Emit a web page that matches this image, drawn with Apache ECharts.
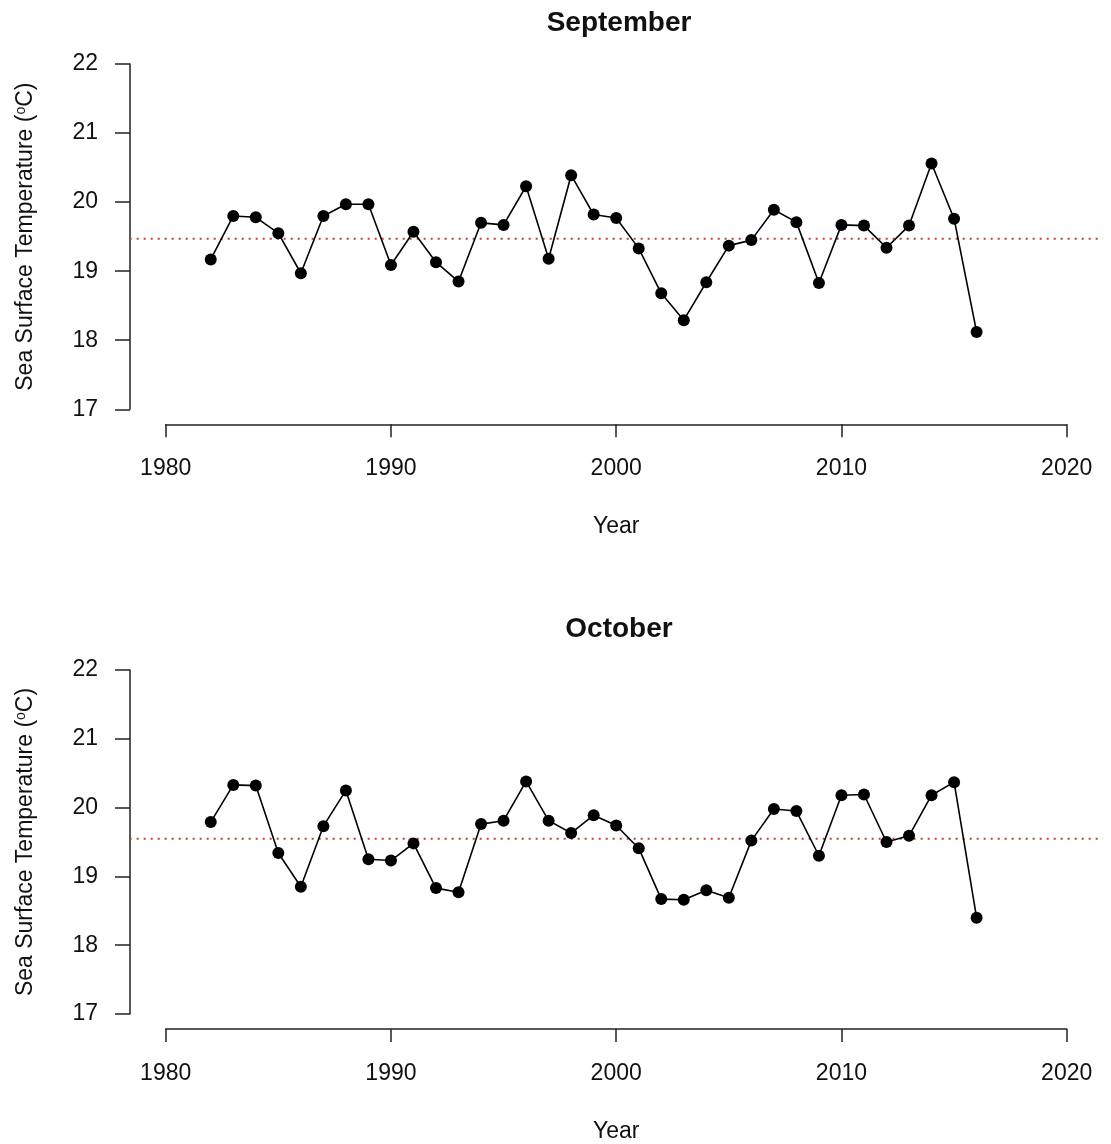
<!DOCTYPE html>
<html>
<head>
<meta charset="utf-8">
<script src="https://cdn.jsdelivr.net/npm/echarts@6/dist/echarts.min.js"></script>
<style>
html,body{margin:0;padding:0;background:#fff;}
#chart{width:1111px;height:1144px;}
</style>
</head>
<body>
<div id="chart"></div>
<script>
// ---- data ----
const years = [1982,1983,1984,1985,1986,1987,1988,1989,1990,1991,1992,1993,1994,1995,1996,1997,1998,1999,
               2000,2001,2002,2003,2004,2005,2006,2007,2008,2009,2010,2011,2012,2013,2014,2015,2016];
const septemberSST = [19.17,19.80,19.78,19.55,18.97,19.80,19.97,19.97,19.09,19.57,19.13,18.85,19.70,19.67,20.23,19.18,20.39,19.82,
                      19.77,19.33,18.68,18.29,18.84,19.37,19.45,19.89,19.71,18.83,19.67,19.66,19.34,19.66,20.56,19.76,18.12];
const octoberSST = [19.79,20.33,20.32,19.34,18.85,19.73,20.25,19.25,19.23,19.48,18.83,18.77,19.76,19.81,20.38,19.81,19.63,19.89,
                    19.74,19.41,18.67,18.66,18.80,18.69,19.52,19.98,19.95,19.30,20.18,20.19,19.50,19.59,20.18,20.37,18.40];
const septemberMean = 19.47;
const octoberMean = 19.56;
const panelTitles = ['September', 'October'];
const xTicks = [1980, 1990, 2000, 2010, 2020];
const yTicks = [17, 18, 19, 20, 21, 22];
const xLabel = 'Year';
const yLabel = 'Sea Surface Temperature ({sup|o}C)';

// ---- layout ----
const FONT = '"Liberation Sans", Arial, sans-serif';
const xMin = 1980, xMax = 2020, yMin = 17, yMax = 22;
const xPad = (xMax - xMin) * 0.04; // R-style 4% extension for plot region
const panels = [
  { top: 64, height: 345.3, series: septemberSST, mean: septemberMean, titleTop: 4 },
  { top: 670, height: 345.7, series: octoberSST, mean: octoberMean, titleTop: 610 }
];
const gridLeft = 165.7, gridWidth = 901;
const pxPerYear = gridWidth / (xMax - xMin);
const axisColor = '#222';

const grids = [];
const xAxes = [];
const yAxes = [];
const series = [];

panels.forEach((p, i) => {
  // visible axes grid (spans exactly the tick range, like R's axis())
  grids.push({ left: gridLeft, width: gridWidth, top: p.top, height: p.height });
  xAxes.push({
    type: 'value', gridIndex: grids.length - 1, min: xMin, max: xMax, interval: 10,
    offset: 15,
    name: xLabel, nameLocation: 'middle', nameGap: 91,
    nameTextStyle: { fontFamily: FONT, fontSize: 23, color: '#111' },
    axisLine: { show: true, lineStyle: { color: axisColor, width: 1.5 } },
    axisTick: { show: true, length: 13, lineStyle: { color: axisColor, width: 1.5 } },
    axisLabel: { margin: 33, fontFamily: FONT, fontSize: 23, color: '#111',
                 formatter: v => xTicks.includes(v) ? String(v) : '' },
    splitLine: { show: false }
  });
  yAxes.push({
    type: 'value', gridIndex: grids.length - 1, min: yMin, max: yMax, interval: 1,
    offset: 35.7,
    name: yLabel, nameLocation: 'middle', nameGap: 92, nameRotate: 90,
    nameTextStyle: { fontFamily: FONT, fontSize: 23, color: '#111',
      rich: { sup: { fontFamily: FONT, fontSize: 14, color: '#111', verticalAlign: 'top', padding: [0, 0, 10, 0] } } },
    axisLine: { show: true, lineStyle: { color: axisColor, width: 1.5 } },
    axisTick: { show: true, length: 15, lineStyle: { color: axisColor, width: 1.5 } },
    axisLabel: { margin: 32, fontFamily: FONT, fontSize: 23, color: '#111',
                 formatter: v => yTicks.includes(v) ? String(v) : '' },
    splitLine: { show: false }
  });
  const mainIdx = grids.length - 1;

  // full plot-region grid (R's 4% extended region) for the mean line
  grids.push({ left: gridLeft - xPad * pxPerYear, width: gridWidth + 2 * xPad * pxPerYear, top: p.top, height: p.height });
  xAxes.push({ type: 'value', gridIndex: grids.length - 1, min: xMin - xPad, max: xMax + xPad, show: false });
  yAxes.push({ type: 'value', gridIndex: grids.length - 1, min: yMin, max: yMax, show: false });
  const regionIdx = grids.length - 1;

  series.push({
    type: 'line', xAxisIndex: regionIdx, yAxisIndex: regionIdx,
    data: [[xMin - xPad, p.mean], [xMax + xPad, p.mean]],
    symbol: 'none', silent: true,
    lineStyle: { color: '#b5443a', width: 2, type: [2, 5] },
    z: 1
  });
  series.push({
    type: 'line', xAxisIndex: mainIdx, yAxisIndex: mainIdx,
    data: years.map((y, k) => [y, p.series[k]]),
    symbol: 'circle', symbolSize: 12, showSymbol: true,
    itemStyle: { color: '#000' },
    lineStyle: { color: '#000', width: 1.6 },
    z: 3
  });
});

const option = {
  backgroundColor: '#fff',
  animation: false,
  title: panels.map((p, i) => ({
    text: panelTitles[i],
    left: 614, top: p.titleTop, textAlign: 'center',
    textStyle: { fontFamily: FONT, fontSize: 28, fontWeight: 'bold', color: '#111' }
  })),
  grid: grids,
  xAxis: xAxes,
  yAxis: yAxes,
  series: series
};

const chart = echarts.init(document.getElementById('chart'), null, { renderer: 'canvas' });
chart.setOption(option);
</script>
</body>
</html>
